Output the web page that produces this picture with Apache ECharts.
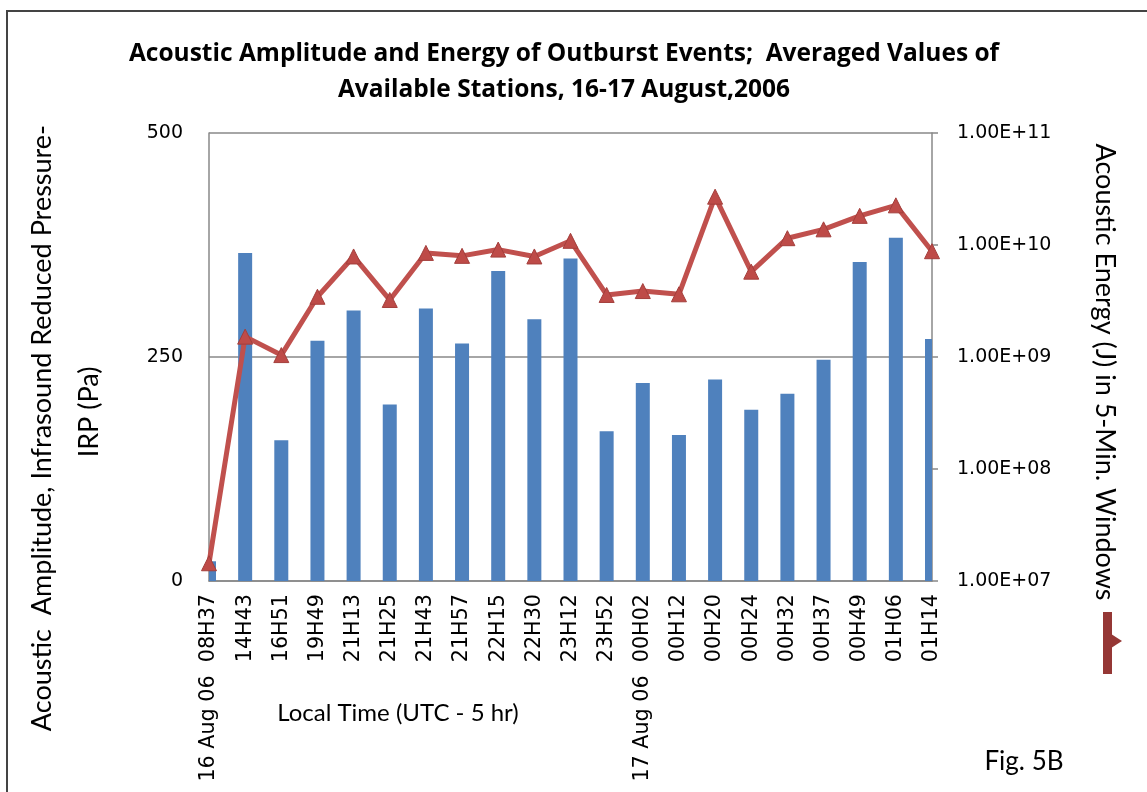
<!DOCTYPE html>
<html>
<head>
<meta charset="utf-8">
<script src="https://cdn.jsdelivr.net/npm/echarts@6/dist/echarts.min.js"></script>
<style>html,body{margin:0;padding:0;background:#fff;}#c{width:1147px;height:792px;}</style>
</head>
<body>
<div id="c"></div>
<script>
var categories = ['16 Aug 06  08H37','14H43','16H51','19H49','21H13','21H25','21H43','21H57','22H15','22H30','23H12','23H52','17 Aug 06  00H02','00H12','00H20','00H24','00H32','00H37','00H49','01H06','01H14'];
var amplitude = [22,366,157,268,302,197,304,265,346,292,360,167,221,163,225,191,209,247,356,383,270];
var energy = [1.44e7,1.52e9,1.04e9,3.45e9,7.9e9,3.23e9,8.5e9,8.0e9,9.1e9,7.9e9,1.09e10,3.58e9,3.88e9,3.63e9,2.70e10,5.78e9,1.15e10,1.38e10,1.82e10,2.26e10,8.8e9];
var leftTicks = [0,250,500];

var chart = echarts.init(document.getElementById('c'));
var sans = 'Lato';
var mono = 'DejaVu Sans';
var barData = amplitude.map(function (v, i) { return [i, v]; });
chart.setOption({
  animation: false,
  backgroundColor: '#fff',
  title: {
    text: 'Acoustic Amplitude and Energy of Outburst Events;  Averaged Values of\nAvailable Stations, 16-17 August,2006',
    left: 559, top: 31, textAlign: 'center',
    textStyle: {fontFamily: 'Open Sans', fontWeight: 'bold', fontSize: 24.5, lineHeight: 36, color: '#000'}
  },
  grid: {left: 209, right: 215, top: 133, bottom: 211, containLabel: false},
  xAxis: {
    type: 'category', data: categories, boundaryGap: false,
    axisLine: {lineStyle: {color: '#888', width: 1.5}},
    axisTick: {show: false},
    axisLabel: {rotate: 90, interval: 0, fontFamily: mono, fontSize: 20.7, color: '#000', margin: 13}
  },
  yAxis: [{
    type: 'value', min: leftTicks[0], max: leftTicks[leftTicks.length-1], interval: 250,
    axisLine: {show: true, lineStyle: {color: '#888', width: 1.5}},
    axisTick: {show: false},
    axisLabel: {fontFamily: mono, fontSize: 19, color: '#000', margin: 26},
    splitLine: {lineStyle: {color: '#888', width: 1.5}}
  }, {
    type: 'log', logBase: 10, min: 1e7, max: 1e11,
    axisLine: {show: true, lineStyle: {color: '#888', width: 1.5}},
    axisTick: {show: true, inside: false, length: 6, lineStyle: {color: '#888', width: 1.5}},
    minorTick: {show: false},
    splitLine: {show: false},
    axisLabel: {fontFamily: mono, fontSize: 19, color: '#000', margin: 25,
      formatter: function (v) { var e = Math.round(Math.log10(v)); return '1.00E+' + (e < 10 ? '0' + e : e); }}
  }],
  graphic: [
    {type: 'rect', shape: {x: 7, y: 11, width: 1300, height: 1000}, style: {fill: 'none', stroke: '#444', lineWidth: 2}, silent: true},
    {type: 'text', x: 42, y: 428, rotation: Math.PI/2, style: {text: 'Acoustic  Amplitude, Infrasound Reduced Pressure-', fontFamily: sans, fontSize: 27, fill: '#000', align: 'center', verticalAlign: 'middle'}},
    {type: 'text', x: 89, y: 412, rotation: Math.PI/2, style: {text: 'IRP (Pa)', fontFamily: sans, fontSize: 27, fill: '#000', align: 'center', verticalAlign: 'middle'}},
    {type: 'text', x: 1105, y: 372, rotation: -Math.PI/2, style: {text: 'Acoustic Energy (J) in 5-Min. Windows', fontFamily: sans, fontSize: 27, fill: '#000', align: 'center', verticalAlign: 'middle'}},
    {type: 'rect', shape: {x: 1103, y: 612, width: 9, height: 62}, style: {fill: '#953735'}},
    {type: 'polygon', shape: {points: [[1108, 632], [1122, 641], [1108, 650]]}, style: {fill: '#953735'}},
    {type: 'text', x: 398, y: 713, style: {text: 'Local Time (UTC - 5 hr)', fontFamily: sans, fontSize: 24, fill: '#000', align: 'center', verticalAlign: 'middle'}},
    {type: 'text', x: 1024, y: 762, style: {text: 'Fig. 5B', fontFamily: sans, fontSize: 26, fill: '#000', align: 'center', verticalAlign: 'middle'}}
  ],
  series: [{
    type: 'custom', yAxisIndex: 0, data: barData, encode: {x: 0, y: 1},
    renderItem: function (params, api) {
      var top = api.coord([api.value(0), api.value(1)]);
      var base = api.coord([api.value(0), 0]);
      var w = 14;
      var cs = params.coordSys;
      var r = echarts.graphic.clipRectByRect(
        {x: top[0] - w / 2, y: top[1], width: w, height: base[1] - top[1]},
        {x: cs.x, y: cs.y, width: cs.width, height: cs.height});
      return r && {type: 'rect', shape: r, style: {fill: '#4F81BD'}};
    }
  }, {
    type: 'line', data: energy, yAxisIndex: 1, clip: false,
    symbol: 'triangle', symbolSize: 15,
    lineStyle: {color: '#C0504D', width: 5},
    itemStyle: {color: '#BE4B48', borderColor: '#A33E3B', borderWidth: 1}
  }]
});
</script>
</body>
</html>
